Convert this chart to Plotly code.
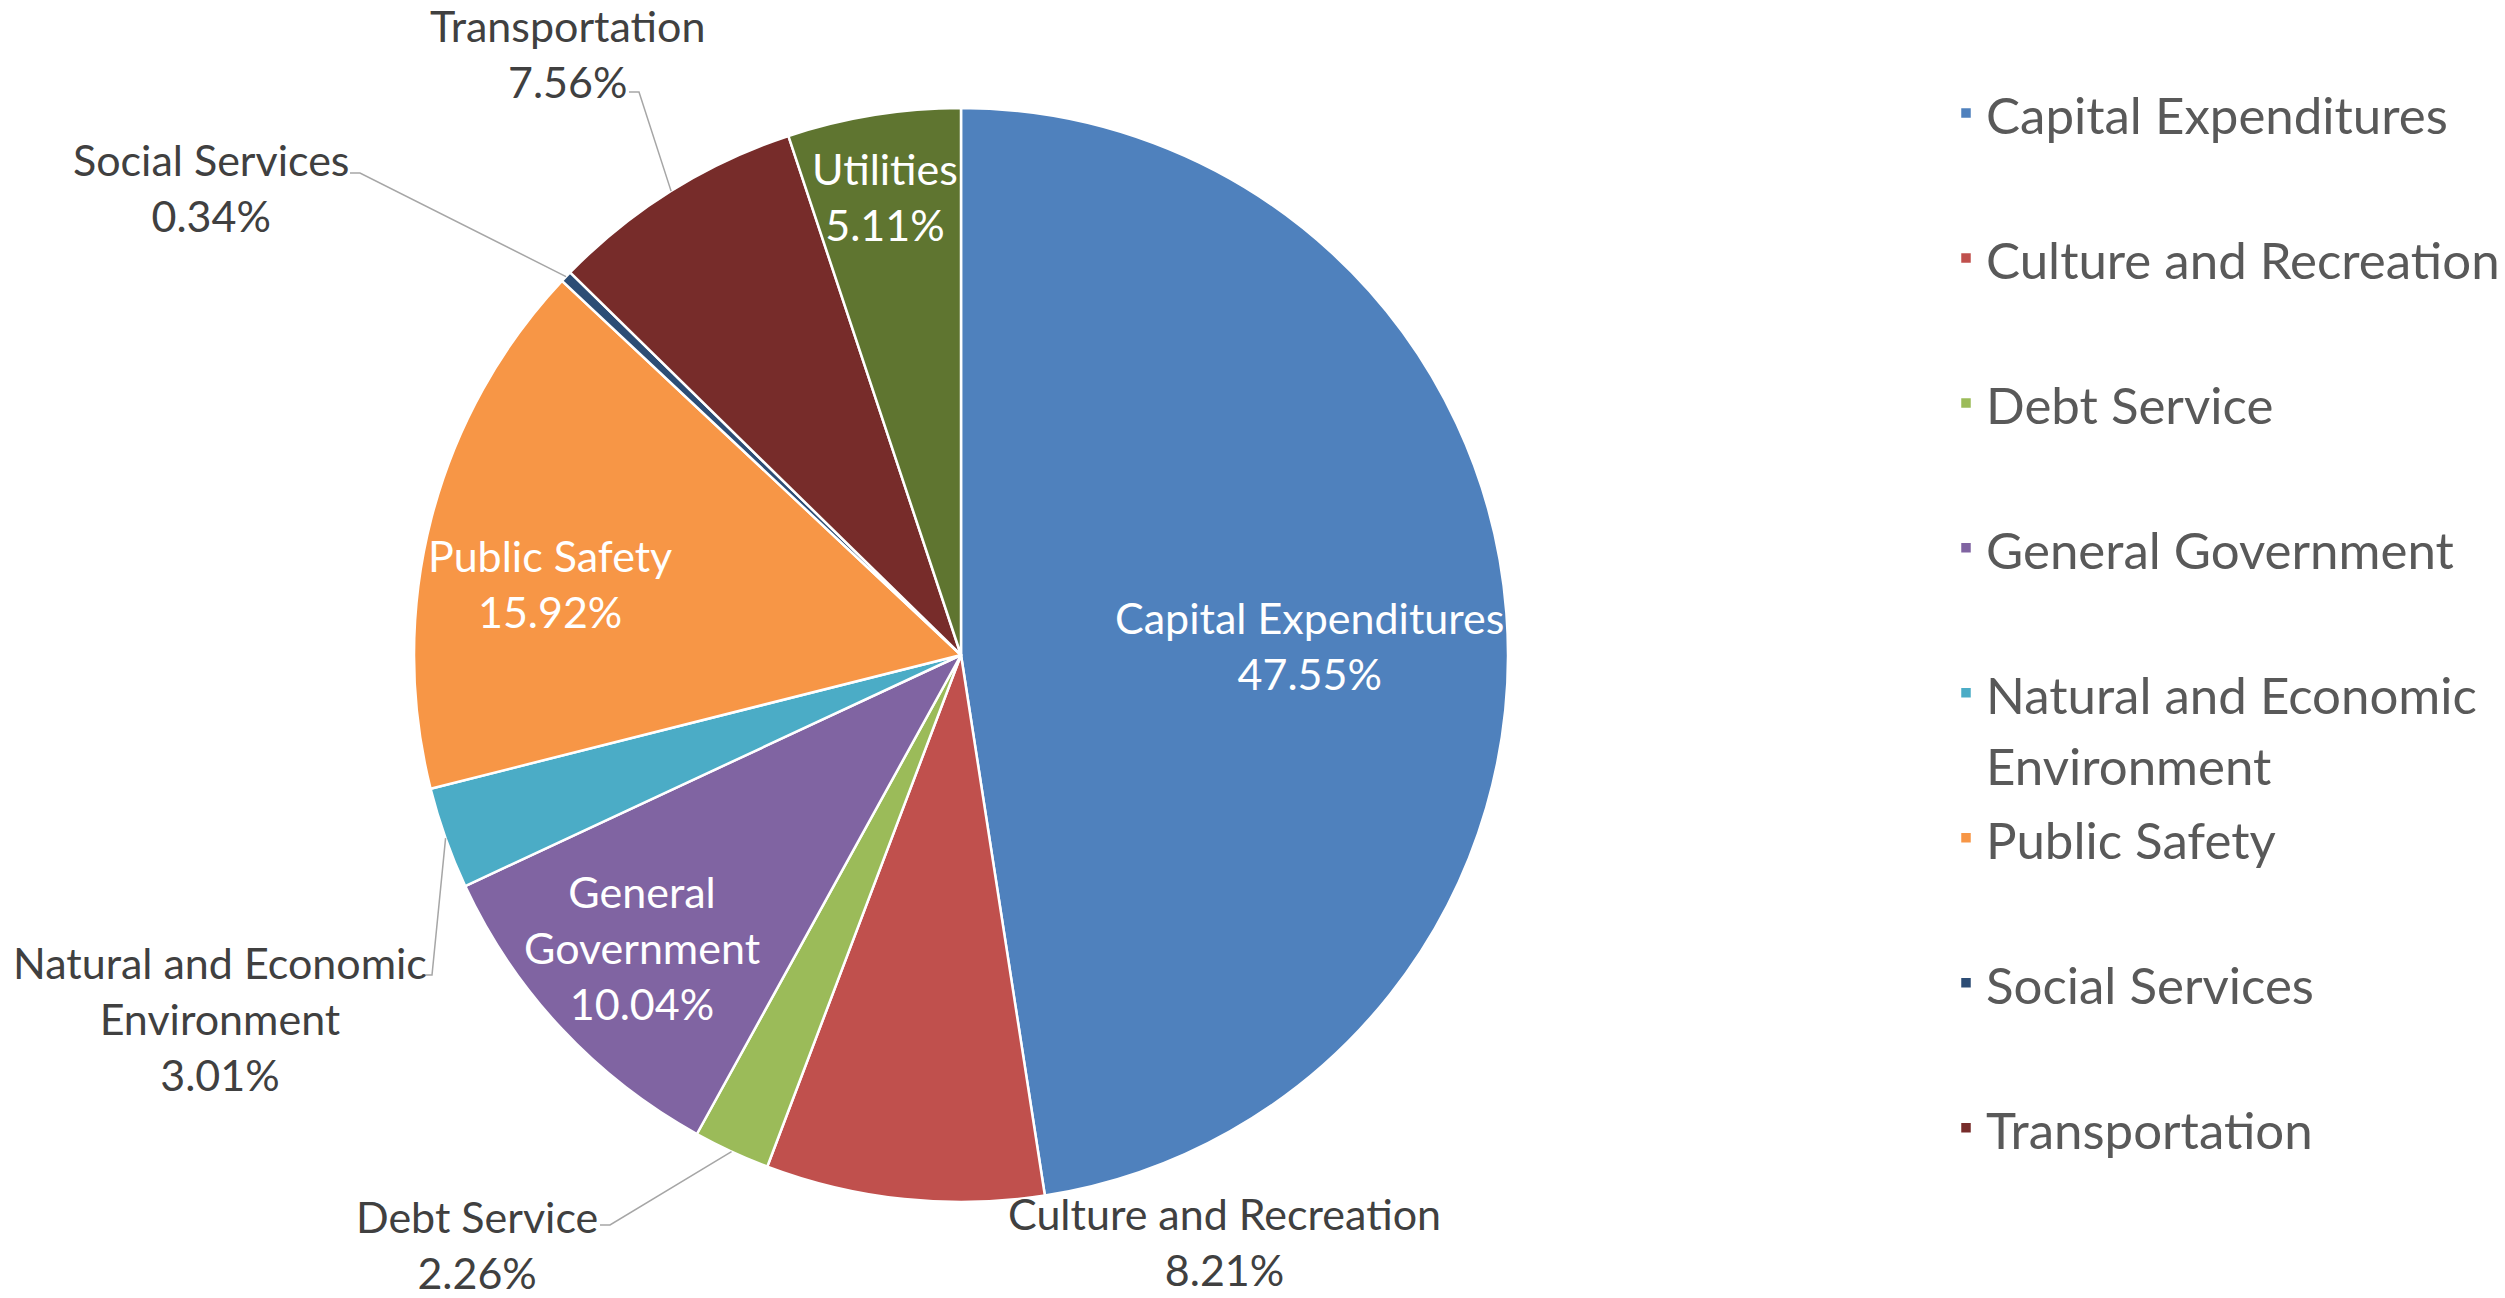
import math
import plotly.graph_objects as go

# spending shares (percent of total), clockwise from 12 o'clock
categories = ["Capital Expenditures", "Culture and Recreation", "Debt Service",
              "General Government", "Natural and Economic Environment",
              "Public Safety", "Social Services", "Transportation", "Utilities"]
shares = [47.55, 8.21, 2.26, 10.04, 3.01, 15.92, 0.34, 7.56, 5.11]
colors = ["#4F81BD", "#C0504D", "#9BBB59", "#8064A2", "#4BACC6",
          "#F79646", "#2C4D75", "#772C2A", "#5F7530"]

W, H = 2505, 1298
PAGE_MARGIN = 8  # default <body> margin of the written page
CX, CY, R = 961, 655, 547
FONT = "Lato, Roboto, sans-serif"

wrap = {"General Government": "General<br>Government",
        "Natural and Economic Environment": "Natural and Economic<br>Environment"}

# data label centres in screen pixels, and whether the label sits inside the slice
label_pos = {
    "Capital Expenditures": (1309, 645, True),
    "Utilities": (885, 197, True),
    "Public Safety": (550, 583, True),
    "General Government": (642, 947, True),
    "Transportation": (567, 54, False),
    "Social Services": (211, 187, False),
    "Natural and Economic Environment": (220, 1018, False),
    "Debt Service": (477, 1244, False),
    "Culture and Recreation": (1224, 1241, False),
}
# where the leader line leaves the label
leader_start = {
    "Transportation": (629, 92),
    "Social Services": (350, 173),
    "Natural and Economic Environment": (422, 975),
    "Debt Service": (600, 1225),
}


def px_x(x):
    return (x - PAGE_MARGIN) / W


def px_y(y):
    return 1 - (y - PAGE_MARGIN) / H


# legend text: the legend font sets the row pitch, the span sets the glyph size;
# every entry is padded to two lines so the spacing matches excel, and
# transportation gets extra room so utilities falls off the bottom
legend_labels = []
for c in categories:
    lines = (wrap[c] if c.startswith("Natural") else c).split("<br>")
    name = "<br>".join(f'<span style="font-size:51px">{t}</span>' for t in lines)
    if len(lines) == 1:
        name += "<br> "
    if c == "Transportation":
        name += "<br> <br> "
    legend_labels.append(name)

fig = go.Figure(go.Pie(
    labels=legend_labels,
    values=shares,
    sort=False,
    direction="clockwise",
    rotation=0,
    textinfo="none",
    hoverinfo="percent",
    marker=dict(colors=colors, line=dict(color="white", width=2.5)),
    domain=dict(x=[px_x(CX - R), px_x(CX + R)], y=[px_y(CY + R), px_y(CY - R)]),
))

total = sum(shares)
cum = 0
annotations = []
shapes = []
for cat, val in zip(categories, shares):
    mid = (cum + val / 2) / total * 2 * math.pi
    cum += val
    x, y, inside = label_pos[cat]
    annotations.append(dict(
        x=px_x(x), y=px_y(y), xref="paper", yref="paper",
        text=f"{wrap.get(cat, cat)}<br>{val:.2f}%",
        showarrow=False, xanchor="center", yanchor="middle", align="center",
        font=dict(family=FONT, size=43, color="white" if inside else "#404040"),
    ))
    if cat in leader_start:
        sx, sy = leader_start[cat]
        ex, ey = CX + R * math.sin(mid), CY - R * math.cos(mid)
        path = (f"M {px_x(sx)},{px_y(sy)} L {px_x(sx + 10)},{px_y(sy)} "
                f"L {px_x(ex)},{px_y(ey)}")
        shapes.append(dict(type="path", path=path, xref="paper", yref="paper",
                           line=dict(color="#A6A6A6", width=1.5)))

fig.update_layout(
    width=W, height=H,
    margin=dict(l=0, r=0, t=0, b=0, autoexpand=False),
    paper_bgcolor="white",
    plot_bgcolor="white",
    annotations=annotations,
    shapes=shapes,
    showlegend=True,
    legend=dict(
        x=px_x(1946), y=px_y(71), xanchor="left", yanchor="top",
        font=dict(family=FONT, size=54.6, color="#595959"),
        valign="top", maxheight=3000, bgcolor="rgba(0,0,0,0)",
    ),
)

fig.write_html("out.html")
